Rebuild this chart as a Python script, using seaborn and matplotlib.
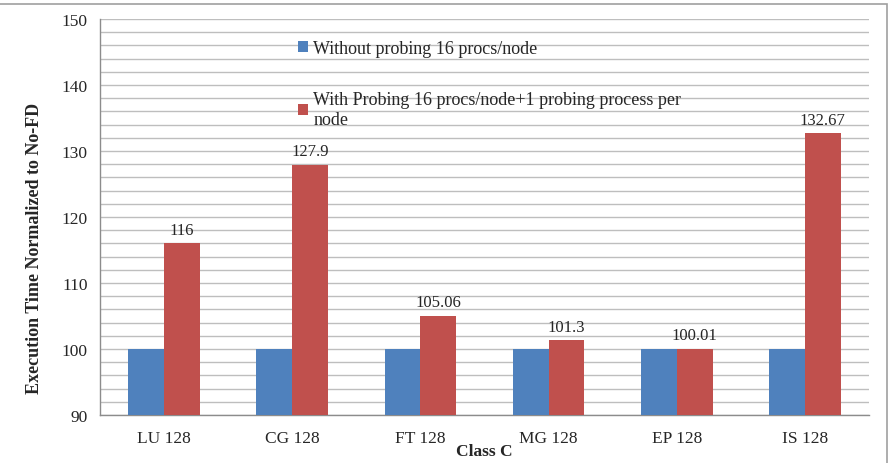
import numpy as np
import pandas as pd
import seaborn as sns
import matplotlib.pyplot as plt
from matplotlib.patches import Rectangle

# chart data
categories = ['LU 128', 'CG 128', 'FT 128', 'MG 128', 'EP 128', 'IS 128']
without_probing = [100, 100, 100, 100, 100, 100]
with_probing = [116, 127.9, 105.06, 101.3, 100.01, 132.67]
with_labels = ['116', '127.9', '105.06', '101.3', '100.01', '132.67']
series_names = ['Without probing 16 procs/node',
                'With Probing 16 procs/node+1 probing process per\nnode']

df = pd.DataFrame({
    'category': categories * 2,
    'value': without_probing + with_probing,
    'series': [series_names[0]] * 6 + [series_names[1]] * 6,
})

sns.set_style('white')
plt.rcParams['font.family'] = ['Liberation Serif', 'DejaVu Serif']

fig = plt.figure(figsize=(8.9, 4.64), dpi=100)
ax = fig.add_axes([100 / 890, 1 - 416 / 464, 769 / 890, 396 / 464])

sns.barplot(data=df, x='category', y='value', hue='series',
            palette=['#4F81BD', '#C0504D'], width=0.56, gap=0,
            saturation=1, linewidth=0, edgecolor='none', ax=ax, zorder=3)

ax.set_ylim(90, 150)
ax.set_xlim(-0.5, 5.5)
ax.set_yticks(np.arange(90, 151, 10))
ax.set_yticks(np.arange(90, 151, 2), minor=True)
ax.set_xticks(np.arange(-0.5, 6, 1), minor=True)
ax.grid(True, which='both', axis='y', color='#BEBEBE', linewidth=1, zorder=0)
ax.set_axisbelow(True)

ax.tick_params(axis='y', which='major', length=5, color='#8C8C8C',
               labelsize=12.5, pad=4)
ax.tick_params(axis='y', which='minor', length=0)
ax.tick_params(axis='x', which='major', length=0, labelsize=12.5, pad=11)
ax.tick_params(axis='x', which='minor', length=5, color='#8C8C8C')

for side in ['top', 'right']:
    ax.spines[side].set_visible(False)
for side in ['left', 'bottom']:
    ax.spines[side].set_color('#8C8C8C')
    ax.spines[side].set_linewidth(1)

ax.set_xlabel('Class C', fontsize=12.5, fontweight='bold', labelpad=-2)
ax.set_ylabel('Execution Time Normalized to No-FD', fontsize=13,
              fontweight='bold')
ax.yaxis.set_label_coords(-0.074, 0.424)

# labels on the red bars
ax.bar_label(ax.containers[1], labels=with_labels, padding=4, fontsize=12)

# legend inside the plot
handles, labels = ax.get_legend_handles_labels()
ax.legend(handles, labels, loc='upper left', frameon=False,
          bbox_to_anchor=(289 / 890, 1 - 32 / 464), bbox_transform=fig.transFigure,
          fontsize=13, handlelength=0.55, handleheight=0.55,
          handletextpad=0.3, labelspacing=1.88, borderpad=0)

# thin frame around the figure
fig.add_artist(Rectangle((-0.01, -0.01), 887 / 890 + 0.01, 1 - 5 / 464 + 0.01,
                         transform=fig.transFigure, fill=False,
                         edgecolor='#A0A0A0', linewidth=1.2))

fig.savefig('out.png', dpi=100)
